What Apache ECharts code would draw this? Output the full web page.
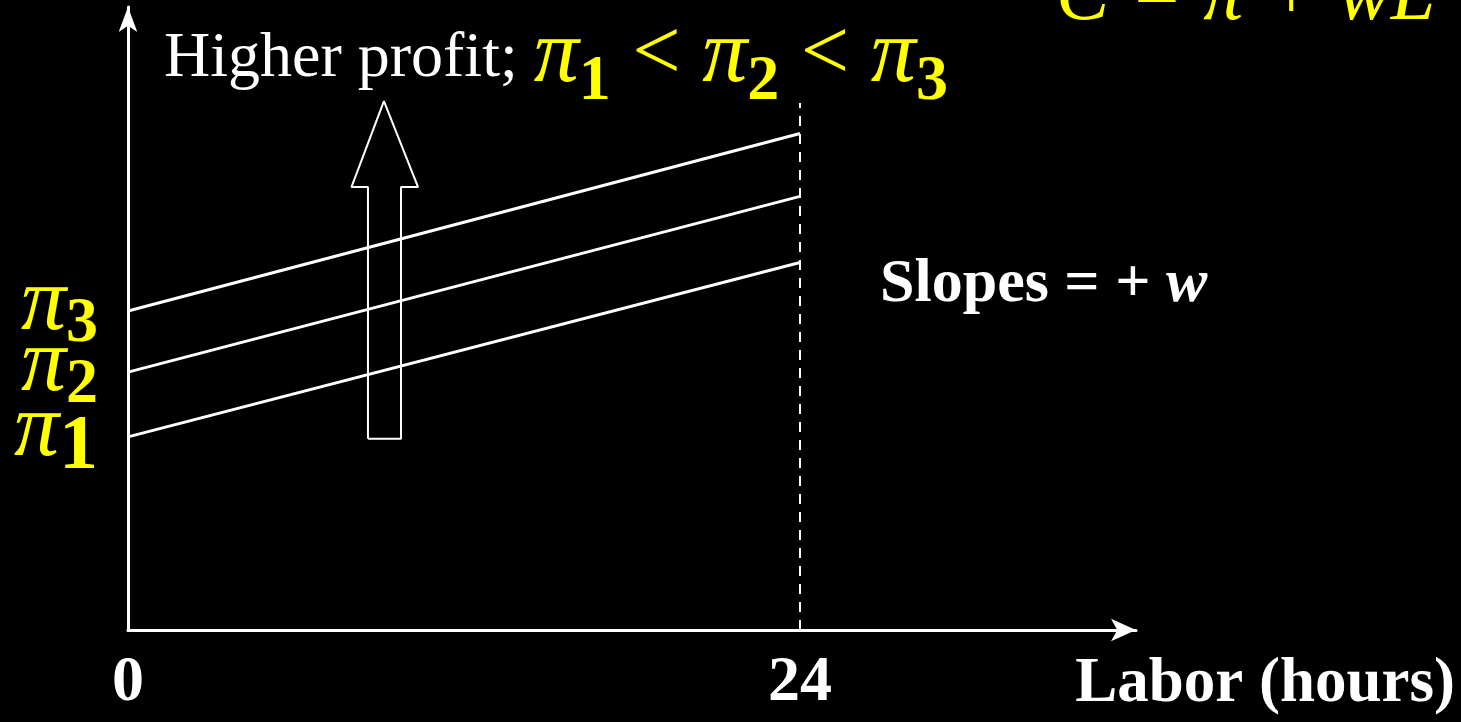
<!DOCTYPE html>
<html><head><meta charset="utf-8">
<script src="https://cdn.jsdelivr.net/npm/echarts@6/dist/echarts.min.js"></script>
<style>html,body{margin:0;padding:0;background:#000;} #c{width:1461px;height:722px;}</style>
</head><body><div id="c"></div>
<script>
// ---- data ----
const xTickLabels = [0, 24];
// y tick positions: axis ends (blank) and the intercepts of the iso-profit lines
const yTickValues = [0, 31, 41.4, 51.2, 100];
const yTickNames = ['', '1', '2', '3', ''];
const isoProfit1 = [[0, 31], [24, 59]];
const isoProfit2 = [[0, 41.4], [24, 69.6]];
const isoProfit3 = [[0, 51.2], [24, 79.7]];
const maxHours = [[24, 0], [24, 84.6]];
const arrowOutline = [[8.57, 30.7], [9.75, 30.7], [9.75, 71.1], [10.36, 71.1], [9.14, 84.9], [7.98, 71.1], [8.57, 71.1], [8.57, 30.7]];

const SERIF = "'Liberation Serif', 'Times New Roman', serif";
const YEL = '#ffff00';

const chart = echarts.init(document.getElementById('c'), null, {renderer: 'canvas'});
const lineSeries = (data, style) => ({
  type: 'line', data, symbol: 'none', silent: true, animation: false,
  lineStyle: Object.assign({color: '#fff', width: 3}, style || {})
});
chart.setOption({
  backgroundColor: '#000',
  animation: false,
  grid: {left: 128, right: 325, top: 7, bottom: 92, containLabel: false},
  title: [
    {
      left: 164, top: 5, padding: 0,
      text: '{w|Higher profit; }{p|π}{s|1}{l| < }{p|π}{s|2}{l| < }{p|π}{s|3}',
      textStyle: {fontWeight: 'normal', rich: {
        w: {color: '#fff', fontFamily: SERIF, fontWeight: 'normal', fontSize: 64},
        p: {color: YEL, fontFamily: SERIF, fontStyle: 'italic', fontWeight: 'normal', fontSize: 90, padding: [0, 0, 4, 0]},
        s: {color: YEL, fontFamily: SERIF, fontWeight: 'bold', fontSize: 64, padding: [45, 0, 0, 0]},
        l: {color: YEL, fontFamily: SERIF, fontWeight: 'normal', fontSize: 86, padding: [0, 0, 6, 0]}
      }}
    },
    {
      left: 880, top: 254, padding: 0,
      text: '{b|Slopes = + }{i|w}',
      textStyle: {rich: {
        b: {color: '#fff', fontFamily: SERIF, fontWeight: 'bold', fontSize: 62},
        i: {color: '#fff', fontFamily: SERIF, fontWeight: 'bold', fontStyle: 'italic', fontSize: 62}
      }}
    },
    {
      left: 1056, top: -42, padding: 0,
      text: '{i|C = π + wL}',
      textStyle: {fontWeight: 'normal', rich: {
        i: {color: YEL, fontFamily: SERIF, fontStyle: 'italic', fontWeight: 'normal', fontSize: 80}
      }}
    }
  ],
  xAxis: {
    type: 'value', min: 0, max: 36,
    splitLine: {show: false},
    axisTick: {show: false},
    axisLine: {show: true, onZero: false, symbol: ['none', 'arrow'], symbolSize: [17, 25], symbolOffset: [0, 0],
      lineStyle: {color: '#fff', width: 3}},
    axisLabel: {customValues: xTickLabels, color: '#fff', fontFamily: SERIF, fontWeight: 'bold', fontSize: 64, margin: 21},
    name: 'Labor (hours)', nameLocation: 'end', nameGap: 319,
    nameTextStyle: {color: '#fff', fontFamily: SERIF, fontWeight: 'bold', fontSize: 63, align: 'right', verticalAlign: 'top', padding: [23, 0, 0, 0]}
  },
  yAxis: {
    type: 'value', min: 0, max: 100,
    splitLine: {show: false},
    axisTick: {show: false},
    axisLine: {show: true, onZero: false, symbol: ['none', 'arrow'], symbolSize: [14, 25], symbolOffset: [0, 0],
      lineStyle: {color: '#fff', width: 3}},
    axisLabel: {
      customValues: yTickValues, margin: 30, hideOverlap: false,
      formatter: v => {
        const n = yTickNames[yTickValues.indexOf(v)];
        if (!n) return '';
        return '{p|π}{' + (n === '1' ? 'b' : 's') + '|' + n + '}';
      },
      rich: {
        p: {color: YEL, fontFamily: SERIF, fontStyle: 'italic', fontWeight: 'normal', fontSize: 90, padding: [0, 0, 12, 0]},
        s: {color: YEL, fontFamily: SERIF, fontWeight: 'bold', fontSize: 64, padding: [27, 0, 0, 0]},
        b: {color: YEL, fontFamily: SERIF, fontWeight: 'bold', fontSize: 78, padding: [22, 0, 0, 0]}
      }
    }
  },
  series: [
    lineSeries(isoProfit1),
    lineSeries(isoProfit2),
    lineSeries(isoProfit3),
    lineSeries(maxHours, {width: 2, type: [10, 8]}),
    lineSeries(arrowOutline, {width: 2})
  ]
});
</script></body></html>
